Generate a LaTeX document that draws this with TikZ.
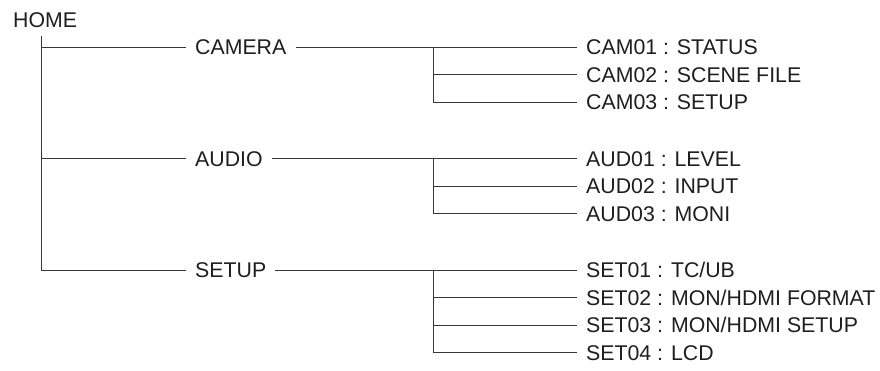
\documentclass[tikz,border=0pt]{standalone}
\usepackage{fontspec}
\setmainfont{Liberation Sans}
\usepackage{xcolor}
\usetikzlibrary{calc,positioning}
\definecolor{menuInk}{RGB}{30,30,30}
\definecolor{menuLine}{RGB}{55,55,55}
\tikzset{
  menuText/.style={anchor=west, inner xsep=9pt, inner ysep=0pt, text height=15.3pt, text depth=0pt, text=menuInk},
  menuLink/.style={menuLine, line width=1pt}
}

\begin{document}
\begin{tikzpicture}[x=1pt,y=-1pt, font=\fontsize{21.3}{25}\selectfont]
\useasboundingbox (0,0) rectangle (880,370);
\node[menuText] (home) at (4,20) {HOME};

% first level
\foreach \name/\txt/\y in {cam/CAMERA/47, aud/AUDIO/158.5, set/SETUP/270}{
  \node[menuText] (\name) at (186,\y) {\txt};
}

% second level
\foreach \name/\txt/\y in {cam01/{CAM01 : STATUS}/47, cam02/{CAM02 : SCENE FILE}/74.5, cam03/{CAM03 : SETUP}/102,
  aud01/{AUD01 : LEVEL}/158.5, aud02/{AUD02 : INPUT}/186, aud03/{AUD03 : MONI}/213.5,
  set01/{SET01 : TC/UB}/270, set02/{SET02 : MON/HDMI FORMAT}/297.5, set03/{SET03 : MON/HDMI SETUP}/325, set04/{SET04 : LCD}/352.5}{
  \node[menuText] (\name) at (577,\y) {\txt};
}

% trunk from HOME
\coordinate (trunk) at (41,36);
\foreach \n in {cam,aud,set}{
  \draw[menuLink] (trunk) |- (\n.west);
}

% forks to the pages
\foreach \p/\last in {cam/3,aud/3,set/4}{
  \coordinate (\p fork) at (433,0 |- \p.west);
  \draw[menuLink] (\p.east) -- (\p01.west);
  \foreach \i in {2,...,\last}{
    \draw[menuLink] (\p fork) |- (\p0\i.west);
  }
}
\end{tikzpicture}
\end{document}
